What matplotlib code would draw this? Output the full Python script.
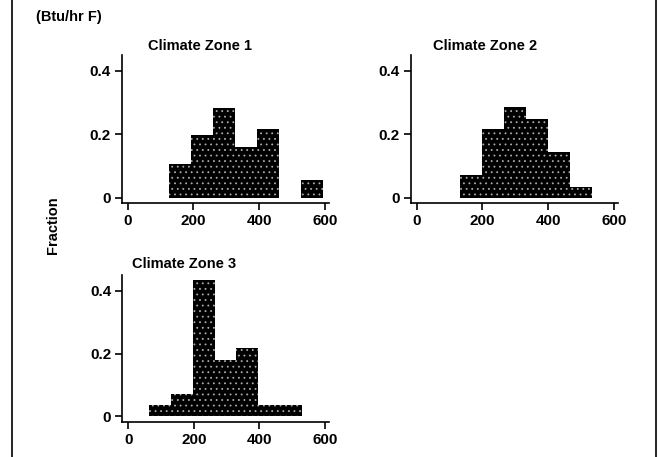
import numpy as np
import matplotlib
matplotlib.use('Agg')
import matplotlib.pyplot as plt

plt.rcParams['font.family'] = ['Liberation Sans', 'DejaVu Sans']
plt.rcParams['hatch.linewidth'] = 0.6

# bin edges shared by all zones (Btu/hr F)
bin_width = 66.7
zone1_left = [127, 193.7, 260.4, 327.1, 393.8, 527.2]
zone1_frac = [0.106, 0.197, 0.284, 0.161, 0.216, 0.056]
zone2_left = [132, 198.7, 265.4, 332.1, 398.8, 465.5]
zone2_frac = [0.072, 0.216, 0.287, 0.248, 0.145, 0.035]
zone3_left = [63, 129.7, 196.4, 263.1, 329.8, 396.5, 463.2]
zone3_frac = [0.035, 0.070, 0.434, 0.178, 0.218, 0.035, 0.035]

titles = ['Climate Zone 1', 'Climate Zone 2', 'Climate Zone 3']
xticks = [0, 200, 400, 600]
yticks = [0, 0.2, 0.4]
yticklabels = ['0', '0.2', '0.4']

W, H = 660, 457
fig = plt.figure(figsize=(W / 100, H / 100), dpi=100)

# axes boxes in pixels: left, right, bottom, top
boxes = [(121.7, 329, 203, 55), (410.7, 618, 203, 55), (122.3, 329, 421.7, 275)]
title_pos = [(200, 46), (485, 46), (184, 264)]
data = [(zone1_left, zone1_frac), (zone2_left, zone2_frac), (zone3_left, zone3_frac)]

for (l, r, b, t), (lefts, fr), title, (tx, ty) in zip(boxes, data, titles, title_pos):
    ax = fig.add_axes([l / W, 1 - b / H, (r - l) / W, (b - t) / H])
    ax.bar(lefts, fr, width=bin_width, align='edge', color='black', linewidth=0)
    ax.bar(lefts, fr, width=bin_width, align='edge', fill=False, hatch='...',
           edgecolor='#aaaaaa', linewidth=0)
    ax.set_xlim(-18, 612)
    ax.set_ylim(-0.017, 0.45)
    for s in ['top', 'right']:
        ax.spines[s].set_visible(False)
    for s in ['left', 'bottom']:
        ax.spines[s].set_linewidth(1.2)
    ax.set_xticks(xticks)
    ax.set_yticks(yticks)
    ax.set_yticklabels(yticklabels)
    ax.tick_params(direction='out', length=5, width=1.2, labelsize=11, pad=3)
    for lab in ax.get_xticklabels() + ax.get_yticklabels():
        lab.set_fontweight('bold')
    fig.text(tx / W, 1 - ty / H, title, ha='center', va='center',
             fontsize=10.5, fontweight='bold')

fig.text(36 / W, 1 - 17 / H, '(Btu/hr F)', ha='left', va='center',
         fontsize=10.5, fontweight='bold')
fig.text(53 / W, 1 - 225 / H, 'Fraction', ha='center', va='center',
         rotation=90, fontsize=10.5, fontweight='bold')

# frame lines at left and right edges
fig.add_artist(plt.Line2D([12 / W, 12 / W], [0, 1], color='black', lw=1.2))
fig.add_artist(plt.Line2D([656 / W, 656 / W], [0, 1], color='black', lw=1.2))

fig.savefig('out.png', dpi=100)
